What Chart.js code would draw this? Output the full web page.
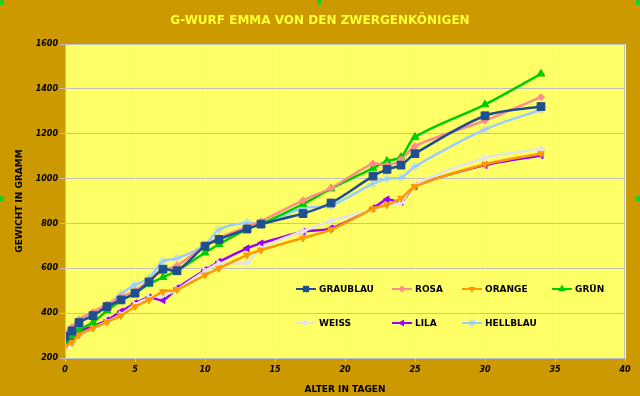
<!DOCTYPE html>
<html>
<head>
<meta charset="utf-8">
<script src="https://cdn.jsdelivr.net/npm/chart.js@4"></script>
<style>
html, body { margin: 0; padding: 0; background: #cc9900; }
canvas { display: block; }
</style>
</head>
<body>
<canvas id="graphic" width="640" height="396"></canvas>
<script>
// Alter in Tagen
var days = [0, 0.5, 1, 2, 3, 4, 5, 6, 7, 8, 10, 11, 13, 14, 17, 19, 22, 23, 24, 25, 30, 34];

// Gewicht in Gramm
var graublau = [296, 321, 358, 389, 429, 459, 489, 539, 596, 589, 699, 729, 775, 797, 844, 891, 1011, 1041, 1060, 1111, 1280, 1321];
var rosa     = [312, 338, 372, 405, 440, 472, 500, 545, 590, 612, 700, 735, 785, 810, 903, 958, 1067, 1060, 1084, 1145, 1259, 1363];
var orange   = [252, 269, 303, 333, 360, 389, 429, 459, 496, 504, 570, 600, 659, 681, 735, 772, 865, 883, 912, 965, 1064, 1111];
var gruen    = [274, 299, 326, 358, 411, 456, 488, 530, 560, 589, 669, 707, 775, 797, 886, 955, 1047, 1078, 1095, 1185, 1330, 1467];
var weiss    = [244, 265, 298, 333, 362, 394, 438, 468, 480, 505, 588, 622, 625, 690, 765, 812, 862, 882, 894, 972, 1092, 1133];
var lila     = [268, 282, 318, 342, 368, 407, 444, 470, 458, 511, 592, 629, 689, 711, 763, 778, 868, 907, 896, 966, 1060, 1103];
var hellblau = [300, 330, 362, 396, 432, 486, 526, 556, 632, 644, 704, 773, 804, 797, 868, 880, 978, 1000, 1004, 1054, 1219, 1307];

var xTicks = [0, 5, 10, 15, 20, 25, 30, 35, 40];
var yTicks = [200, 400, 600, 800, 1000, 1200, 1400, 1600];

var FONT = '"DejaVu Sans", sans-serif';

function points(values) {
    return values.map(function (v, i) { return { x: days[i], y: v }; });
}

function series(label, values, color, style, rotation, radius) {
    return {
        label: label,
        data: points(values),
        borderColor: color,
        backgroundColor: color,
        borderWidth: 2.5,
        pointStyle: style,
        pointRotation: rotation,
        pointRadius: radius,
        pointBorderWidth: 1,
        tension: 0.3
    };
}

var graphData = {
    datasets: [
        series('GRAUBLAU', graublau, '#1f4f8f', 'rect', 0, 5.5),
        series('ROSA', rosa, '#ff8c8c', 'rectRot', 0, 3.5),
        series('ORANGE', orange, '#ff9900', 'triangle', 180, 4),
        series('GRÜN', gruen, '#00cc00', 'triangle', 0, 4.5),
        series('WEISS', weiss, '#e4e4e4', 'triangle', 90, 4),
        series('LILA', lila, '#9900ff', 'triangle', 270, 4),
        series('HELLBLAU', hellblau, '#99ccff', 'star', 0, 4.5)
    ]
};

function drawMarker(ctx, style, rot, r, x, y, color) {
    ctx.save();
    ctx.translate(x, y);
    ctx.rotate(rot * Math.PI / 180);
    ctx.fillStyle = color;
    ctx.strokeStyle = color;
    ctx.lineWidth = 1;
    ctx.beginPath();
    if (style === 'rect') {
        var s = r / Math.SQRT2;
        ctx.rect(-s, -s, 2 * s, 2 * s);
        ctx.fill();
    } else if (style === 'rectRot') {
        ctx.moveTo(0, -r); ctx.lineTo(r, 0); ctx.lineTo(0, r); ctx.lineTo(-r, 0);
        ctx.closePath(); ctx.fill();
    } else if (style === 'triangle') {
        ctx.moveTo(0, -r); ctx.lineTo(r * 0.87, r * 0.5); ctx.lineTo(-r * 0.87, r * 0.5);
        ctx.closePath(); ctx.fill();
    } else {
        for (var k = 0; k < 4; k++) {
            var a = k * Math.PI / 4;
            ctx.moveTo(-Math.cos(a) * r, -Math.sin(a) * r);
            ctx.lineTo(Math.cos(a) * r, Math.sin(a) * r);
        }
        ctx.stroke();
    }
    ctx.restore();
}

var framePlugin = {
    id: 'frame',
    beforeDraw: function (chart) {
        var c = chart.ctx, a = chart.chartArea;
        c.save();
        c.fillStyle = '#cc9900';
        c.fillRect(0, 0, chart.width, chart.height);
        c.fillStyle = '#ffff66';
        c.fillRect(a.left, a.top, a.right - a.left, a.bottom - a.top);
        c.fillStyle = '#ffff33';
        c.font = 'bold 12px ' + FONT;
        c.textAlign = 'center';
        c.textBaseline = 'middle';
        c.fillText('G-WURF EMMA VON DEN ZWERGENKÖNIGEN', chart.width / 2, 21);
        c.restore();
    },
    afterDraw: function (chart) {
        var c = chart.ctx, a = chart.chartArea;
        c.save();
        c.strokeStyle = '#b8c0c8';
        c.lineWidth = 1;
        c.strokeRect(a.left + 0.5, a.top + 0.5, a.right - a.left - 1, a.bottom - a.top);
        // legend inside plot area
        var cols = [a.left + 231, a.left + 327, a.left + 397, a.left + 487];
        var rows = [a.top + 245, a.top + 279];
        c.font = 'bold 9px ' + FONT;
        c.textBaseline = 'middle';
        c.textAlign = 'left';
        chart.data.datasets.forEach(function (ds, i) {
            var x = cols[i < 4 ? i : i - 4];
            var y = rows[i < 4 ? 0 : 1];
            c.strokeStyle = ds.borderColor;
            c.lineWidth = 2;
            c.beginPath();
            c.moveTo(x, y);
            c.lineTo(x + 20, y);
            c.stroke();
            drawMarker(c, ds.pointStyle, ds.pointRotation, Math.min(ds.pointRadius, 4.5), x + 10, y, ds.borderColor);
            c.fillStyle = '#000000';
            c.fillText(ds.label, x + 23, y + 0.5);
        });
        // selection handles
        c.fillStyle = '#22cc22';
        [[0, 0], [317, 0], [636, 0], [0, 196], [636, 196]].forEach(function (p) {
            c.fillRect(p[0], p[1], 4, 5);
        });
        c.restore();
    }
};

function plain(v) { return String(v); }

var graphOptions = {
    responsive: false,
    animation: false,
    layout: { padding: { top: 44, right: 15, left: 0, bottom: 0 } },
    plugins: {
        legend: { display: false },
        title: { display: false },
        tooltip: { enabled: false }
    },
    scales: {
        x: {
            type: 'linear',
            min: 0,
            max: 40,
            afterBuildTicks: function (s) { s.ticks = xTicks.map(function (v) { return { value: v }; }); },
            afterFit: function (s) { s.height = 38; },
            ticks: { callback: plain, color: '#000000', font: { family: FONT, size: 8, weight: 'bold', style: 'italic' }, padding: 3 },
            grid: { color: '#ffffc8', lineWidth: 1, tickLength: 4, tickColor: '#c0c0c0' },
            border: { color: '#b8c0c8' },
            title: { display: true, text: 'ALTER IN TAGEN', color: '#000000', font: { family: FONT, size: 9, weight: 'bold' }, padding: { top: 0, bottom: 1 } }
        },
        y: {
            min: 200,
            max: 1600,
            afterBuildTicks: function (s) { s.ticks = yTicks.map(function (v) { return { value: v }; }); },
            afterFit: function (s) { s.width = 65; },
            ticks: { callback: plain, color: '#000000', font: { family: FONT, size: 8, weight: 'bold', style: 'italic' }, padding: 2 },
            grid: { color: '#c0c0c0', lineWidth: 1, tickLength: 5 },
            border: { color: '#b8c0c8' },
            title: { display: true, text: 'GEWICHT IN GRAMM', color: '#000000', font: { family: FONT, size: 9, weight: 'bold' }, padding: { top: 14, bottom: 0 } }
        }
    }
};

var ctx = document.getElementById('graphic').getContext('2d');
var graphic = new Chart(ctx, {
    type: 'line',
    data: graphData,
    options: graphOptions,
    plugins: [framePlugin]
});
</script>
</body>
</html>
